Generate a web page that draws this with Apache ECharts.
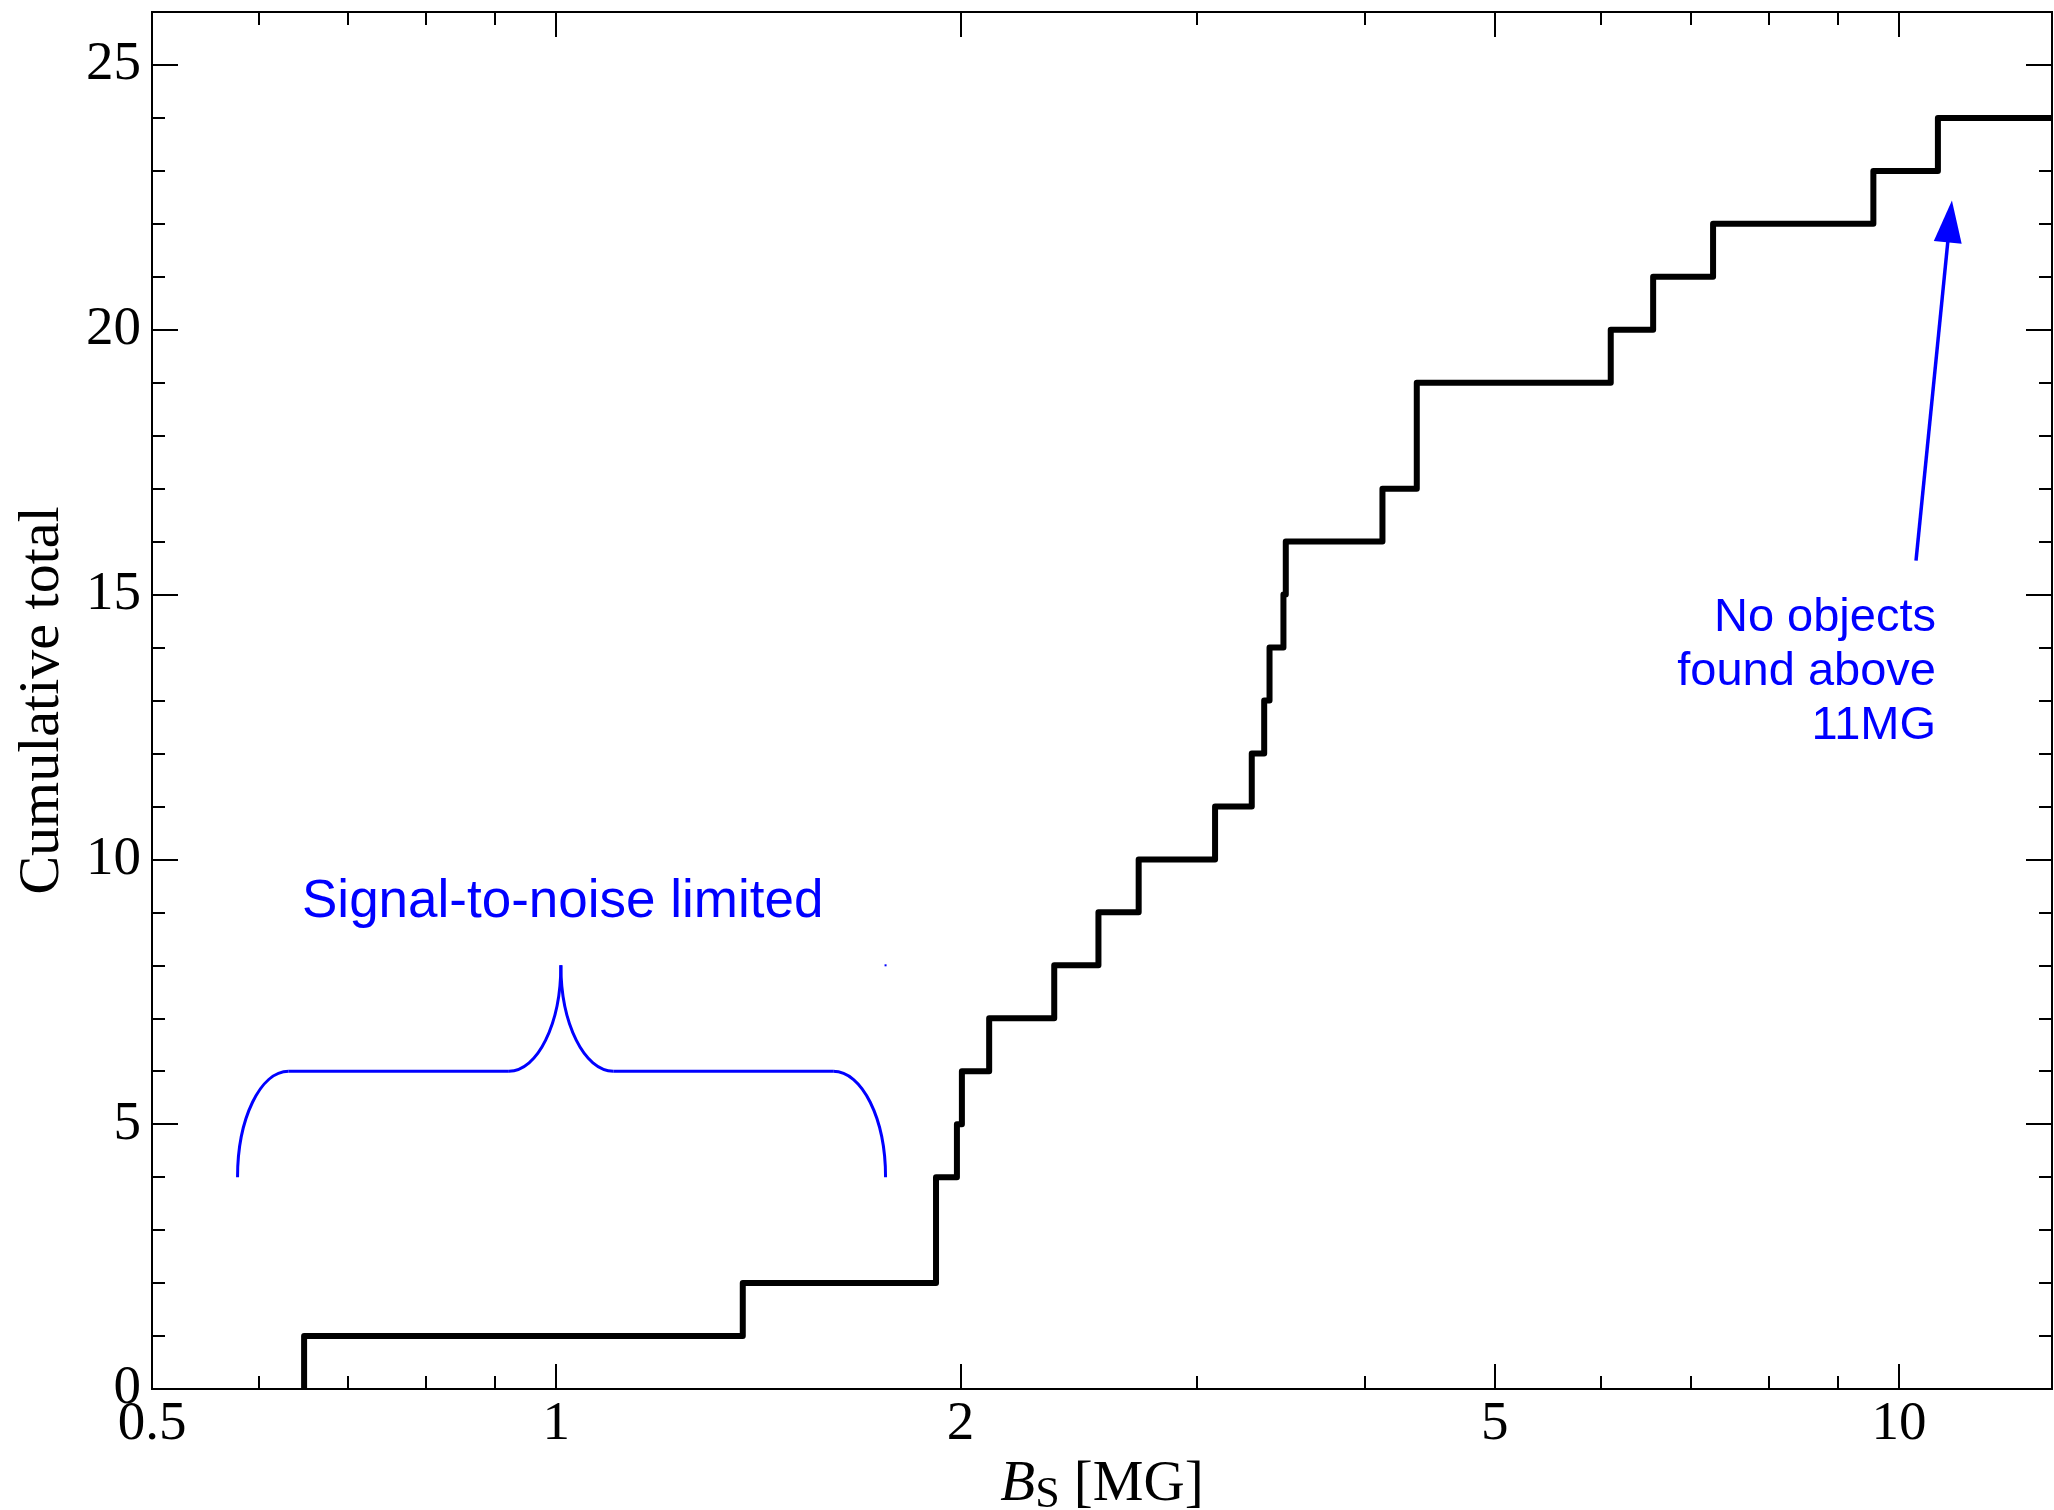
<!DOCTYPE html>
<html>
<head>
<meta charset="utf-8">
<script src="https://cdn.jsdelivr.net/npm/echarts@6/dist/echarts.min.js"></script>
<style>
  html, body { margin: 0; padding: 0; background: #ffffff; }
  #chart { width: 2054px; height: 1510px; }
</style>
</head>
<body>
<div id="chart"></div>
<script>
// Surface field strength B_S (MG) at each step of the cumulative count
const fieldMG = [0.649, 1.377, 1.918, 1.988, 2.005, 2.101, 2.349, 2.534, 2.715, 3.095,
                 3.296, 3.367, 3.398, 3.480, 3.494, 4.124, 4.374, 6.10, 6.56, 7.27, 9.57, 10.69];
// Cumulative total reached at each of those field strengths
const cumulativeTotal = [1, 2, 4, 5, 6, 7, 8, 9, 10, 11,
                         12, 13, 14, 15, 16, 17, 19, 20, 21, 22, 23, 24];

// Axis ranges and tick values
const xRange = [0.5, 13];
const xLabelValues = [0.5, 1, 2, 5, 10];
const xMajorTicks = [1, 2, 5, 10];
const xMinorTicks = [0.6, 0.7, 0.8, 0.9, 3, 4, 6, 7, 8, 9];
const yRange = [0, 26];
const yLabelValues = [0, 5, 10, 15, 20, 25];
const yMajorTicks = [5, 10, 15, 20, 25];
const yMinorTicks = [1, 2, 3, 4, 6, 7, 8, 9, 11, 12, 13, 14, 16, 17, 18, 19, 21, 22, 23, 24];

// Annotation anchors in data units [B_S in MG, count]
const braceAnchors = {
  leftEnd: [0.579, 4], leftCorner: [0.632, 6], innerLeft: [0.922, 6], peak: [1.008, 8],
  innerRight: [1.103, 6], rightCorner: [1.608, 6], rightEnd: [1.759, 4]
};
const braceDot = [1.759, 8];
const arrowTail = [10.296, 15.64];
const arrowTip = [10.95, 22.44];

const lg = Math.log10;
const serif = "'Liberation Serif', 'Times New Roman', serif";
const sans = "'Liberation Sans', Arial, sans-serif";
const blue = '#0000ff';

// Step curve: rise from zero at the first field strength, then hold the last total to the edge
const stepData = [[lg(fieldMG[0]), 0]]
  .concat(fieldMG.map((b, i) => [lg(b), cumulativeTotal[i]]))
  .concat([[lg(xRange[1]), cumulativeTotal[cumulativeTotal.length - 1]]]);

const axisLineStyle = { color: '#000', width: 2 };

function xAxisDef(position, ticks, tickLen, labels, withName) {
  const ax = {
    type: 'value', gridIndex: 0, position: position,
    min: lg(xRange[0]), max: lg(xRange[1]),
    axisLine: { show: true, onZero: false, lineStyle: axisLineStyle },
    axisTick: { show: true, inside: true, length: tickLen, customValues: ticks.map(lg),
                lineStyle: { color: '#000', width: 2 } },
    axisLabel: { show: false },
    splitLine: { show: false }
  };
  if (labels) {
    ax.axisLabel = {
      show: true, customValues: labels.map(lg), showMinLabel: true, showMaxLabel: true,
      formatter: v => String(Number(Math.pow(10, v).toPrecision(3))),
      fontFamily: serif, fontSize: 55, color: '#000', margin: 8
    };
  }
  if (withName) {
    ax.name = '{b|B}{s|S}{n| [MG]}';
    ax.nameLocation = 'middle';
    ax.nameGap = 52;
    ax.nameTextStyle = {
      fontFamily: serif, fontSize: 57, color: '#000',
      rich: {
        b: { fontFamily: serif, fontSize: 57, fontStyle: 'italic', color: '#000', lineHeight: 57, verticalAlign: 'top' },
        s: { fontFamily: serif, fontSize: 44, color: '#000', lineHeight: 77, verticalAlign: 'middle' },
        n: { fontFamily: serif, fontSize: 57, color: '#000', lineHeight: 57, verticalAlign: 'top' }
      }
    };
  }
  return ax;
}

function yAxisDef(position, ticks, tickLen, labels, withName) {
  const ax = {
    type: 'value', gridIndex: 0, position: position,
    min: yRange[0], max: yRange[1],
    axisLine: { show: true, onZero: false, lineStyle: axisLineStyle },
    axisTick: { show: true, inside: true, length: tickLen, customValues: ticks,
                lineStyle: { color: '#000', width: 2 } },
    axisLabel: { show: false },
    splitLine: { show: false }
  };
  if (labels) {
    ax.axisLabel = {
      show: true, customValues: labels, showMinLabel: true, showMaxLabel: true,
      fontFamily: serif, fontSize: 55, color: '#000', margin: 11
    };
  }
  if (withName) {
    ax.name = 'Cumulative total';
    ax.nameLocation = 'middle';
    ax.nameGap = 80;
    ax.nameTextStyle = { fontFamily: serif, fontSize: 58, color: '#000' };
  }
  return ax;
}

const chart = echarts.init(document.getElementById('chart'), null, { renderer: 'canvas' });

chart.setOption({
  animation: false,
  backgroundColor: '#ffffff',
  grid: { left: 152, right: 2, top: 12, bottom: 121, containLabel: false, outerBoundsMode: 'none' },
  xAxis: [
    xAxisDef('bottom', xMajorTicks, 25, xLabelValues, true),
    xAxisDef('bottom', xMinorTicks, 13, null, false),
    xAxisDef('top', xMajorTicks, 25, null, false),
    xAxisDef('top', xMinorTicks, 13, null, false)
  ],
  yAxis: [
    yAxisDef('left', yMajorTicks, 26, yLabelValues, true),
    yAxisDef('left', yMinorTicks, 13, null, false),
    yAxisDef('right', yMajorTicks, 26, null, false),
    yAxisDef('right', yMinorTicks, 13, null, false)
  ],
  series: [{
    type: 'line', xAxisIndex: 0, yAxisIndex: 0,
    data: stepData, step: 'end',
    symbol: 'none', showSymbol: false,
    lineStyle: { color: '#000', width: 6, join: 'round' },
    clip: true, z: 3
  }]
});

// Annotations placed through the grid's own coordinate conversion
function px(p) {
  return chart.convertToPixel({ xAxisIndex: 0, yAxisIndex: 0 }, [lg(p[0]), p[1]]);
}

const k = 0.5523;
const L0 = px(braceAnchors.leftEnd), C1 = px(braceAnchors.leftCorner), I1 = px(braceAnchors.innerLeft);
const PK = px(braceAnchors.peak), I2 = px(braceAnchors.innerRight), C2 = px(braceAnchors.rightCorner);
const R0 = px(braceAnchors.rightEnd);

const braceStyle = { fill: null, stroke: blue, lineWidth: 3 };
function curve(p0, c1, c2, p1) {
  return { type: 'bezierCurve', z: 10, style: braceStyle,
           shape: { x1: p0[0], y1: p0[1], cpx1: c1[0], cpy1: c1[1], cpx2: c2[0], cpy2: c2[1], x2: p1[0], y2: p1[1] } };
}
function seg(p0, p1) {
  return { type: 'line', z: 10, style: braceStyle, shape: { x1: p0[0], y1: p0[1], x2: p1[0], y2: p1[1] } };
}

const braceParts = [
  curve(L0, [L0[0], L0[1] - k * (L0[1] - C1[1])], [C1[0] - k * (C1[0] - L0[0]), C1[1]], C1),
  seg(C1, I1),
  curve(I1, [I1[0] + k * (PK[0] - I1[0]), I1[1]], [PK[0], PK[1] + k * (I1[1] - PK[1])], PK),
  curve(PK, [PK[0], PK[1] + k * (I2[1] - PK[1])], [I2[0] - k * (I2[0] - PK[0]), I2[1]], I2),
  seg(I2, C2),
  curve(C2, [C2[0] + k * (R0[0] - C2[0]), C2[1]], [R0[0], R0[1] - k * (R0[1] - C2[1])], R0)
];

const dot = px(braceDot);

// Arrow pointing at the top end of the field range
const aT = px(arrowTail), aH = px(arrowTip);
const dx = aH[0] - aT[0], dy = aH[1] - aT[1];
const len = Math.sqrt(dx * dx + dy * dy);
const ux = dx / len, uy = dy / len;
const headLen = 42, headHalf = 14;
const base = [aH[0] - headLen * ux, aH[1] - headLen * uy];
const nx = -uy, ny = ux;

chart.setOption({
  graphic: braceParts.concat([
    { type: 'rect', shape: { x: dot[0] - 1, y: dot[1] - 1, width: 2, height: 2 }, style: { fill: blue }, z: 10 },
    { type: 'line', shape: { x1: aT[0], y1: aT[1], x2: base[0] + 4 * ux, y2: base[1] + 4 * uy },
      style: { stroke: blue, lineWidth: 3.5 }, z: 10 },
    { type: 'polygon', shape: { points: [[aH[0], aH[1]],
        [base[0] + headHalf * nx, base[1] + headHalf * ny],
        [base[0] - headHalf * nx, base[1] - headHalf * ny]] },
      style: { fill: blue }, z: 10 },
    { type: 'text', x: 302, y: 902,
      style: { text: 'Signal-to-noise limited', fill: blue, font: "53px " + sans,
               align: 'left', verticalAlign: 'middle' }, z: 10 },
    { type: 'text', x: 1936, y: 591,
      style: { text: 'No objects\nfound above\n11MG', fill: blue, font: "47px " + sans,
               align: 'right', verticalAlign: 'top', lineHeight: 54 }, z: 10 }
  ])
});
</script>
</body>
</html>
